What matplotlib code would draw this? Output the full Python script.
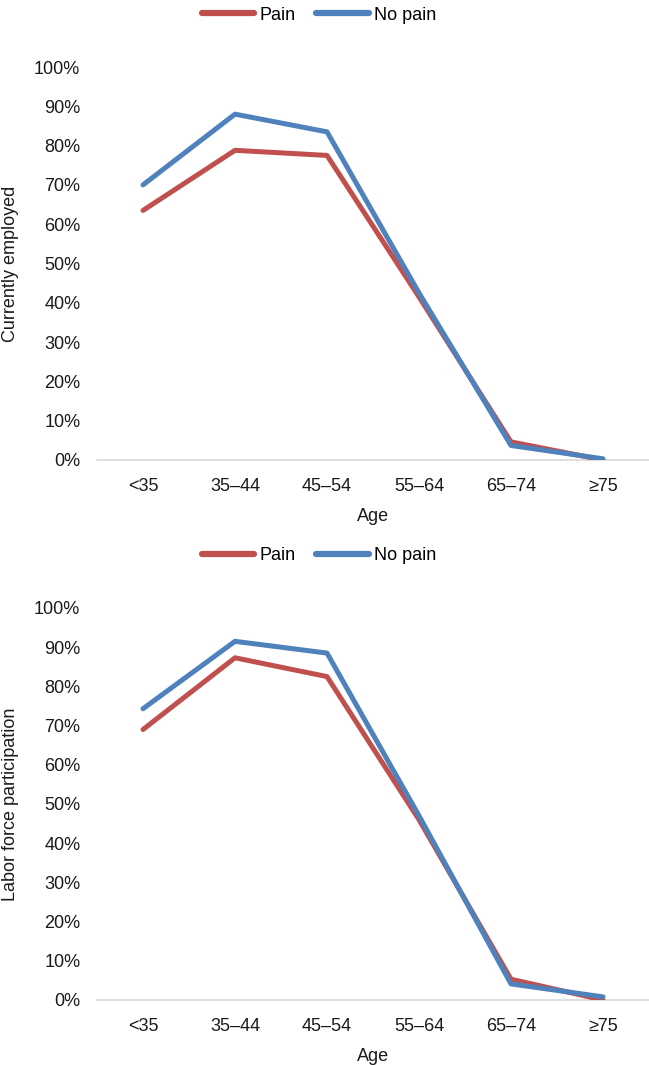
import matplotlib
matplotlib.use("Agg")
import matplotlib.pyplot as plt
from matplotlib.ticker import FuncFormatter

plt.rcParams['font.family'] = ['Liberation Sans', 'DejaVu Sans']

ages = ["<35", "35–44", "45–54", "55–64", "65–74", "≥75"]
employed_pain = [63.5, 78.8, 77.5, 41.5, 4.6, 0.0]
employed_nopain = [70.0, 88.0, 83.5, 42.5, 3.7, 0.3]
labor_pain = [69.0, 87.3, 82.5, 46.0, 5.3, 0.0]
labor_nopain = [74.3, 91.5, 88.5, 47.0, 4.1, 0.8]
yticks = [0, 10, 20, 30, 40, 50, 60, 70, 80, 90, 100]

RED = "#c0504d"
BLUE = "#4f81bd"
FS = 13

fig = plt.figure(figsize=(6.49, 10.65), dpi=100)
W, H = 649, 1065


def make_ax(top_px, bottom_px, pain, nopain, ylabel):
    left_px, right_px = 97, 649
    ax = fig.add_axes([left_px / W, 1 - bottom_px / H,
                       (right_px - left_px) / W, (bottom_px - top_px) / H])
    x = list(range(len(ages)))
    ax.plot(x, pain, color=RED, lw=3.6, solid_capstyle='round',
            solid_joinstyle='round', label="Pain", zorder=3)
    ax.plot(x, nopain, color=BLUE, lw=3.6, solid_capstyle='round',
            solid_joinstyle='round', label="No pain", zorder=4)
    ax.set_xlim(-0.5, len(ages) - 0.5)
    ax.set_ylim(0, 100)
    ax.set_yticks(yticks)
    ax.yaxis.set_major_formatter(FuncFormatter(lambda v, p: f"{int(v)}%"))
    ax.set_xticks(x)
    ax.set_xticklabels(ages)
    for s in ['top', 'right', 'left']:
        ax.spines[s].set_visible(False)
    ax.spines['bottom'].set_color('#d9d9d9')
    ax.spines['bottom'].set_linewidth(1.2)
    ax.tick_params(axis='y', length=0, pad=12, labelsize=FS, colors='#1a1a1a')
    ax.tick_params(axis='x', length=0, pad=13, labelsize=FS, colors='#1a1a1a')
    ax.set_xlabel("Age", fontsize=FS, color='#1a1a1a', labelpad=9)
    ax.set_ylabel(ylabel, fontsize=FS, color='#1a1a1a')
    ax.yaxis.set_label_coords((11 - left_px) / (right_px - left_px), 0.5)
    ax.yaxis.label.set_va('center')
    h = (bottom_px - top_px)
    leg = ax.legend(loc='center', bbox_to_anchor=((319 - left_px) / (right_px - left_px),
                                                  (bottom_px - (top_px - 52)) / h),
                    ncol=2, frameon=False, fontsize=FS, handlelength=2.9,
                    columnspacing=1.15, handletextpad=0.3, borderpad=0.2)
    for line in leg.get_lines():
        line.set_linewidth(4.5)
    return ax


make_ax(67, 460, employed_pain, employed_nopain, "Currently employed")
make_ax(608, 1000, labor_pain, labor_nopain, "Labor force participation")

fig.savefig("out.png", dpi=100)
